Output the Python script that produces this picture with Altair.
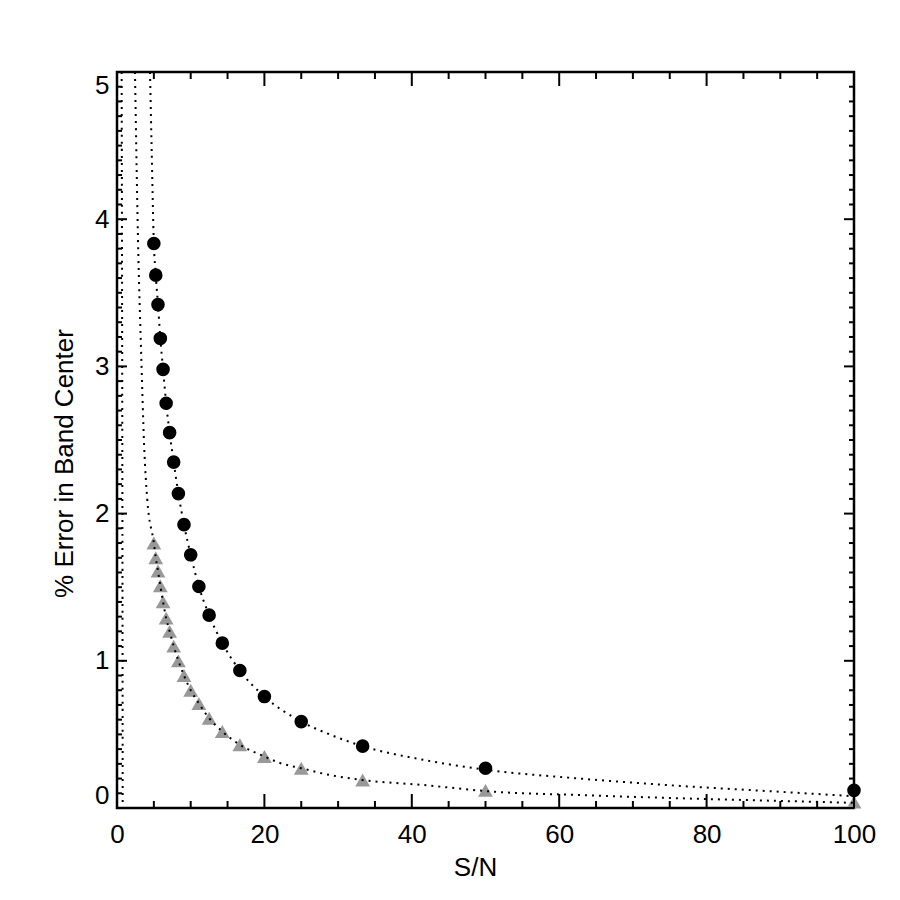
import altair as alt
import pandas as pd

# --- data ---
sn = [100, 50, 33.33, 25, 20, 16.67, 14.29, 12.5, 11.11, 10, 9.09, 8.33, 7.69, 7.14, 6.67, 6.25, 5.88, 5.56, 5.26, 5.0]
circle_err = [0.12, 0.27, 0.42, 0.587, 0.757, 0.934, 1.12, 1.31, 1.505, 1.72, 1.925, 2.136, 2.35, 2.55, 2.75, 2.98, 3.19, 3.42, 3.62, 3.835]
triangle_err = [0.04, 0.12, 0.19, 0.27, 0.35, 0.43, 0.52, 0.61, 0.71, 0.80, 0.90, 1.00, 1.10, 1.20, 1.29, 1.40, 1.51, 1.61, 1.70, 1.80]

# dotted fit curves
circle_fit_x = [4.48, 4.7, 5.0, 5.26, 5.56, 5.88, 6.25, 6.67, 7.14, 7.69, 8.33, 9.09, 10, 11.11, 12.5, 14.29, 16.67, 20, 25, 29, 33.33, 41.6, 50, 62.8, 76.4, 90, 100]
circle_fit_y = [5.0, 4.48, 3.835, 3.62, 3.42, 3.19, 2.98, 2.75, 2.55, 2.35, 2.136, 1.925, 1.72, 1.505, 1.31, 1.12, 0.934, 0.757, 0.587, 0.497, 0.42, 0.327, 0.26, 0.20, 0.15, 0.11, 0.08]

tri_fit_x = [2.44, 2.9, 3.26, 3.7, 4.1, 5.0, 5.26, 5.56, 5.88, 6.25, 6.67, 7.14, 7.69, 8.33, 9.09, 10, 11.11, 12.5, 14.29, 16.67, 20, 22.1, 25, 28.9, 33.33, 41.6, 51.3, 62.8, 76.4, 90, 100]
tri_fit_y = [5.0, 3.75, 3.12, 2.44, 2.1, 1.80, 1.70, 1.61, 1.51, 1.40, 1.29, 1.20, 1.10, 1.00, 0.90, 0.80, 0.71, 0.61, 0.52, 0.43, 0.35, 0.306, 0.27, 0.224, 0.19, 0.156, 0.11, 0.088, 0.066, 0.048, 0.035]

edge_fit_x = [0.63, 0.68, 0.72, 0.75, 0.77]
edge_fit_y = [5.0, 3.8, 2.5, 1.2, 0.0]

x_major = [0, 20, 40, 60, 80, 100]
x_minor = [v for v in range(0, 101, 5) if v % 20 != 0]
y_major = [0, 1, 2, 3, 4, 5]
y_minor = [round(i * 0.1, 1) for i in range(51) if i % 10 != 0]

W, H = 737, 736
FONT = "Liberation Sans"

xs = alt.Scale(domain=[0, 100], nice=False, zero=False)
ys = alt.Scale(domain=[0, 5], nice=False, zero=False)

pts = pd.DataFrame({"sn": sn, "circ": circle_err, "tri": triangle_err})
curves = pd.concat([
    pd.DataFrame({"x": circle_fit_x, "y": circle_fit_y, "c": "circle"}),
    pd.DataFrame({"x": tri_fit_x, "y": tri_fit_y, "c": "tri"}),
    pd.DataFrame({"x": edge_fit_x, "y": edge_fit_y, "c": "edge"}),
])

xaxis = alt.Axis(values=x_major, format="d", labelFont=FONT, labelFontSize=26, labelColor="black",
                 labelPadding=13, labelFlush=False, labelOverlap=False, ticks=False, domain=False, grid=False,
                 title="S/N", titleFont=FONT, titleFontSize=26, titleFontWeight="normal", titleColor="black",
                 titleX=358, titleY=46)
yaxis = alt.Axis(values=y_major, format="d", labelFont=FONT, labelFontSize=26, labelColor="black",
                 labelPadding=8, labelFlush=True, labelOverlap=False, ticks=False, domain=False, grid=False,
                 title="% Error in Band Center", titleFont=FONT, titleFontSize=26,
                 titleFontWeight="normal", titleColor="black", titleX=-40, titleY=391)

base = alt.Chart(pts)
triangles = base.mark_point(shape="triangle-up", filled=True, color="#999999", size=220, opacity=1).encode(
    x=alt.X("sn:Q", scale=xs, axis=xaxis), y=alt.Y("tri:Q", scale=ys, axis=yaxis))
circles = base.mark_point(shape="circle", filled=True, color="black", size=185, opacity=1).encode(
    x=alt.X("sn:Q", scale=xs), y=alt.Y("circ:Q", scale=ys))

lines = alt.Chart(curves).mark_line(color="black", strokeWidth=2, strokeDash=[2, 5], strokeCap="butt",
                                     interpolate="monotone", clip=True).encode(
    x=alt.X("x:Q", scale=xs), y=alt.Y("y:Q", scale=ys), detail="c:N")

def xticks(vals, length):
    d = pd.DataFrame({"v": vals})
    bot = alt.Chart(d).mark_rule(color="black", strokeWidth=2).encode(
        x=alt.X("v:Q", scale=xs), y=alt.value(H), y2=alt.value(H - length))
    top = alt.Chart(d).mark_rule(color="black", strokeWidth=2).encode(
        x=alt.X("v:Q", scale=xs), y=alt.value(0), y2=alt.value(length))
    return [bot, top]

def yticks(vals, length):
    d = pd.DataFrame({"v": vals})
    left = alt.Chart(d).mark_rule(color="black", strokeWidth=2).encode(
        y=alt.Y("v:Q", scale=ys), x=alt.value(0), x2=alt.value(length))
    right = alt.Chart(d).mark_rule(color="black", strokeWidth=2).encode(
        y=alt.Y("v:Q", scale=ys), x=alt.value(W), x2=alt.value(W - length))
    return [left, right]

ticks = xticks(x_major, 14) + xticks(x_minor, 7) + yticks(y_major, 10) + yticks(y_minor, 5)

chart = alt.layer(triangles, circles, lines, *ticks).properties(
    width=W, height=H,
    autosize=alt.AutoSizeParams(type="none"),
    padding={"left": 117, "top": 72, "right": 46, "bottom": 92},
    background="white",
).configure_view(stroke="black", strokeWidth=2.5)

chart.save("out.html", embed_options={"renderer": "svg", "actions": False})
